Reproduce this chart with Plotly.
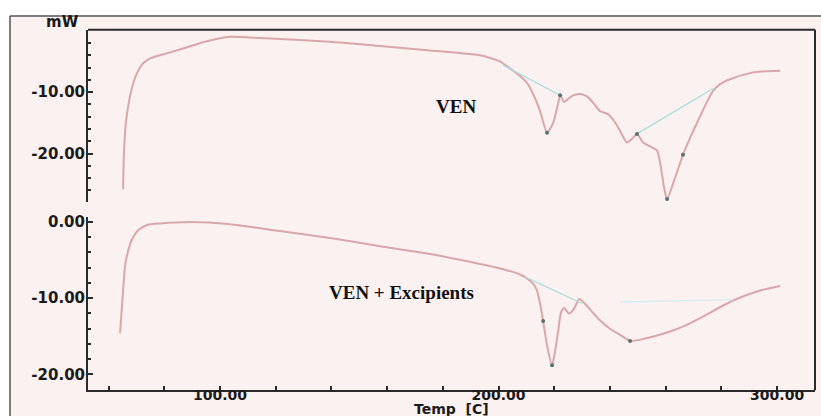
import plotly.graph_objects as go

# ---- data ----
ven_temp = [65.2, 65.5, 66.2, 68.0, 70.2, 72.4, 74.9, 78.5, 86.7, 94.6, 103.6, 114.4, 139.5, 157.5,
            175.4, 193.4, 200.5, 203.1, 205.2, 207.5, 210.2, 213.1, 214.9, 217.4, 219.6, 221.4, 222.1,
            223.5, 226.4, 229.3, 232.1, 234.6, 236.4, 239.0, 241.5, 243.6, 246.1, 247.9, 249.7,
            251.9, 255.1, 256.9, 258.3, 259.4, 260.5, 263.4, 266.2, 268.8, 272.4, 274.9, 277.0,
            279.5, 283.1, 290.3, 295.7, 301.1]
ven_mw = [-25.8, -20.0, -15.0, -10.0, -6.9, -5.3, -4.5, -4.0, -2.9, -1.8, -1.0, -1.2, -1.8, -2.5,
          -3.2, -4.0, -5.0, -5.8, -6.5, -7.3, -8.5, -11.0, -13.1, -16.6, -15.0, -11.8, -10.5,
          -11.6, -10.6, -10.3, -10.8, -12.1, -13.1, -13.5, -14.7, -16.3, -18.2, -17.6, -16.8,
          -18.2, -19.0, -19.5, -22.3, -25.5, -27.4, -23.9, -20.2, -17.4, -13.9, -11.5, -9.8,
          -8.7, -7.9, -6.9, -6.6, -6.5]

mix_temp = [64.1, 64.5, 65.2, 65.9, 67.0, 68.4, 70.6, 73.8, 78.5, 89.2, 103.6, 121.5, 139.5,
            157.5, 175.4, 199.5, 207.7, 210.2, 212.4, 213.8, 214.9, 216.0, 217.4, 219.2,
            220.3, 221.4, 222.4, 223.5, 225.3, 227.1, 228.9, 230.7, 233.6, 236.4, 240.0, 243.6,
            247.2, 252.6, 260.5, 267.0, 272.4, 284.2, 293.9, 301.1]
mix_mw = [-14.6, -12.6, -9.0, -5.8, -3.8, -2.3, -1.1, -0.4, -0.2, 0.0, -0.3, -1.2, -2.1,
          -3.2, -4.2, -6.0, -6.9, -7.4, -8.1, -9.0, -10.7, -13.0, -16.2, -18.8,
          -16.9, -14.3, -11.9, -11.3, -12.0, -11.4, -10.1, -10.6, -11.8, -12.9, -14.0, -14.8,
          -15.6, -15.3, -14.5, -13.6, -12.6, -10.3, -9.0, -8.4]

# baselines / tangents drawn by the analysis software
ven_base1_t = [201.6, 222.1]
ven_base1_v = [-5.6, -10.5]
ven_base2_t = [249.7, 277.0]
ven_base2_v = [-16.8, -9.4]
mix_base1_t = [209.5, 230.0]
mix_base1_v = [-7.2, -10.7]
mix_base2_t = [243.6, 284.2]
mix_base2_v = [-10.5, -10.2]

# analysis points
ven_pts_t = [217.4, 222.1, 249.7, 260.5, 266.2]
ven_pts_v = [-16.6, -10.5, -16.8, -27.4, -20.2]
mix_pts_t = [216.0, 219.2, 247.2]
mix_pts_v = [-13.0, -18.8, -15.6]

x_tickvals = [60, 80, 100, 120, 140, 160, 180, 200, 220, 240, 260, 280, 300]
x_ticktext = ["", "", "100.00", "", "", "", "", "200.00", "", "", "", "", "300.00"]
top_tickvals = [-10, -20]
top_ticktext = ["-10.00", "-20.00"]
bot_tickvals = [0, -10, -20]
bot_ticktext = ["0.00", "-10.00", "-20.00"]

W, H = 821, 416
CURVE = "#d8a7aa"
CYAN = "#a9dede"
AX = "#2a2a2a"

fig = go.Figure()
fig.add_trace(go.Scatter(x=ven_temp, y=ven_mw, mode="lines", line=dict(color=CURVE, width=2, shape="spline", smoothing=0.6),
                         xaxis="x", yaxis="y"))
fig.add_trace(go.Scatter(x=mix_temp, y=mix_mw, mode="lines", line=dict(color=CURVE, width=2, shape="spline", smoothing=0.6),
                         xaxis="x", yaxis="y2"))
for t, v, ax in [(ven_base1_t, ven_base1_v, "y"), (ven_base2_t, ven_base2_v, "y"),
                 (mix_base1_t, mix_base1_v, "y2")]:
    fig.add_trace(go.Scatter(x=t, y=v, mode="lines", line=dict(color=CYAN, width=1.3), xaxis="x", yaxis=ax))
fig.add_trace(go.Scatter(x=mix_base2_t, y=mix_base2_v, mode="lines", line=dict(color="#d4ecf2", width=1.3),
                         xaxis="x", yaxis="y2"))
fig.add_trace(go.Scatter(x=ven_pts_t, y=ven_pts_v, mode="markers",
                         marker=dict(color="#587272", size=4), xaxis="x", yaxis="y"))
fig.add_trace(go.Scatter(x=mix_pts_t, y=mix_pts_v, mode="markers",
                         marker=dict(color="#587272", size=4), xaxis="x", yaxis="y2"))

tickfont = dict(family="DejaVu Sans", size=15, color="#1a1a1a", weight="bold")
xtickfont = dict(family="DejaVu Sans", size=14, color="#1a1a1a", weight="bold")

fig.update_layout(
    width=W, height=H, margin=dict(l=0, r=0, t=0, b=0),
    paper_bgcolor="white", plot_bgcolor="rgba(0,0,0,0)", showlegend=False,
    xaxis=dict(domain=[88 / W, 815 / W], range=[52.6, 313.6], anchor="y2",
               tickvals=x_tickvals, ticktext=x_ticktext, ticks="inside", ticklen=4, tickwidth=1.5,
               tickcolor=AX, showline=True, linewidth=2, linecolor=AX, showgrid=False, zeroline=False,
               tickfont=xtickfont, ticklabelstandoff=-9),
    yaxis=dict(domain=[1 - 200 / H, 1 - 26 / H], range=[-27.9, 0.16], anchor="x",
               tickvals=top_tickvals, ticktext=top_ticktext, ticks="inside", ticklen=5, tickwidth=1.5,
               tickcolor=AX, showline=True, linewidth=2, linecolor=AX, showgrid=False, zeroline=False,
               tickfont=tickfont, ticklabelstandoff=-2,
               minor=dict(dtick=2, ticks="inside", ticklen=3, tickcolor=AX, showgrid=False)),
    yaxis2=dict(domain=[1 - 390 / H, 1 - 215 / H], range=[-22.07, 0.65], anchor="x",
                tickvals=bot_tickvals, ticktext=bot_ticktext, ticks="inside", ticklen=5, tickwidth=1.5,
                tickcolor=AX, showline=True, linewidth=2, linecolor=AX, showgrid=False, zeroline=False,
                tickfont=tickfont, ticklabelstandoff=-2,
                minor=dict(dtick=2, ticks="inside", ticklen=3, tickcolor=AX, showgrid=False)),
    shapes=[
        dict(type="rect", xref="paper", yref="paper", x0=10 / W, x1=1, y0=0, y1=1 - 12 / H,
             fillcolor="#fcf1f1", line=dict(width=0), layer="below"),
        dict(type="line", xref="paper", yref="paper", x0=10 / W, x1=1, y0=1 - 12 / H, y1=1 - 12 / H,
             line=dict(color="#555", width=1.5)),
        dict(type="line", xref="paper", yref="paper", x0=10 / W, x1=10 / W, y0=0, y1=1 - 12 / H,
             line=dict(color="#555", width=1.5)),
        dict(type="line", xref="paper", yref="paper", x0=88 / W, x1=815 / W, y0=1 - 26 / H, y1=1 - 26 / H,
             line=dict(color=AX, width=2)),
        dict(type="line", xref="paper", yref="paper", x0=815 / W, x1=815 / W, y0=1 - 390 / H, y1=1 - 26 / H,
             line=dict(color=AX, width=2)),
    ],
    annotations=[
        dict(text="mW", xref="paper", yref="paper", x=62 / W, y=1 - 18 / H, showarrow=False,
             xanchor="center", yanchor="middle",
             font=dict(family="DejaVu Sans", size=15, color="#1a1a1a", weight="bold")),
        dict(text="Temp  [C]", xref="paper", yref="paper", x=451 / W, y=1 - 409 / H, showarrow=False,
             xanchor="center", yanchor="middle",
             font=dict(family="DejaVu Sans", size=14, color="#1a1a1a", weight="bold")),
        dict(text="VEN", xref="x", yref="y", x=184.7, y=-12.3, showarrow=False,
             xanchor="center", yanchor="middle",
             font=dict(family="Liberation Serif", size=19, color="#111", weight="bold")),
        dict(text="VEN + Excipients", xref="x", yref="y2", x=165, y=-9.3, showarrow=False,
             xanchor="center", yanchor="middle",
             font=dict(family="Liberation Serif", size=19, color="#111", weight="bold")),
    ],
)

fig.write_html("out.html", config={"displayModeBar": False},
               post_script="document.body.style.margin='0px';")
